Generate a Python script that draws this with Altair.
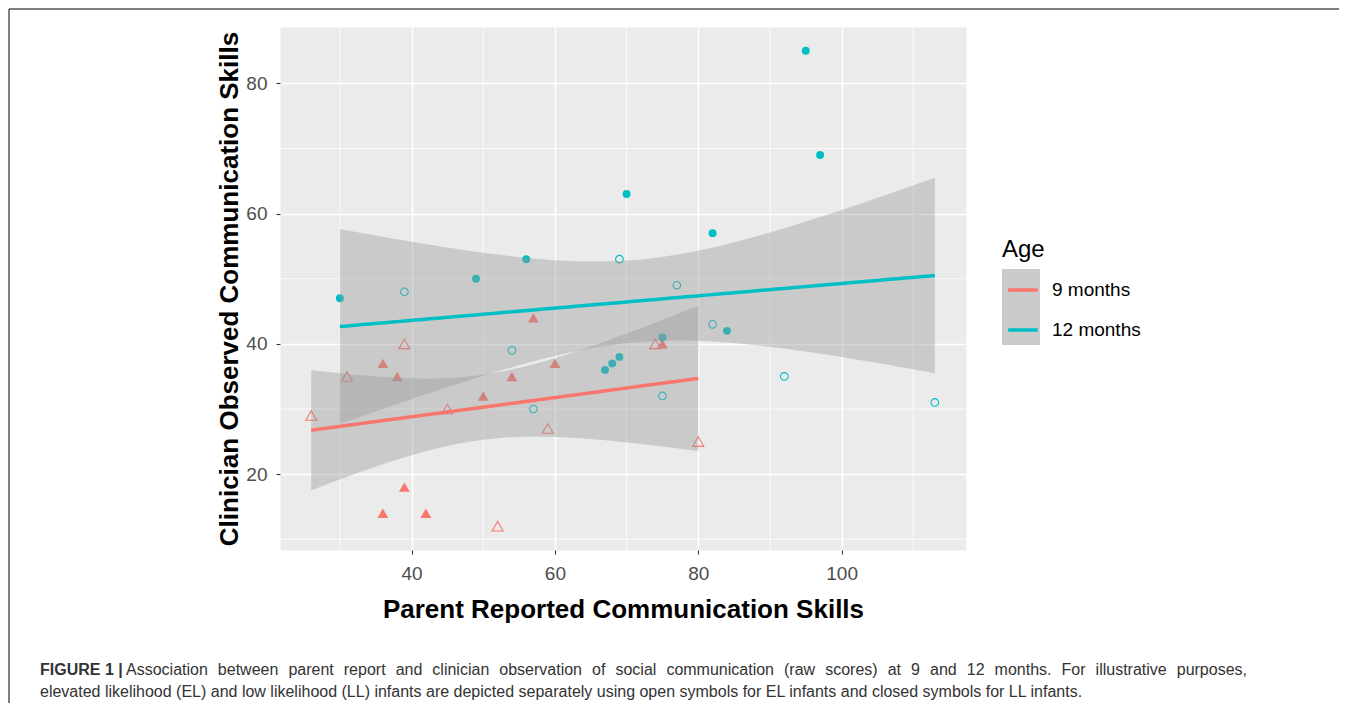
import math
import numpy as np
import pandas as pd
import altair as alt

# ---------------- data ----------------
AGE_LEVELS = ["9 months", "12 months"]
AGE_COLORS = ["#F8766D", "#00BFC4"]

# 9 months, low likelihood (closed triangles)
x9_ll = [36, 38, 54, 50, 57, 60, 75, 39, 36, 42]
y9_ll = [37, 35, 35, 32, 44, 37, 40, 18, 14, 14]
# 9 months, elevated likelihood (open triangles)
x9_el = [26, 31, 39, 45, 59, 74, 80, 52]
y9_el = [29, 35, 40, 30, 27, 40, 25, 12]
# 12 months, low likelihood (closed circles)
x12_ll = [30, 49, 56, 70, 82, 95, 97, 84, 75, 69, 68, 67]
y12_ll = [47, 50, 53, 63, 57, 85, 69, 42, 41, 38, 37, 36]
# 12 months, elevated likelihood (open circles)
x12_el = [39, 54, 57, 69, 77, 82, 75, 92, 113]
y12_el = [48, 39, 30, 53, 49, 43, 32, 35, 31]

x_ticks = [40, 60, 80, 100]
y_ticks = [20, 40, 60, 80]
x_minor = [30, 50, 70, 90, 110]
y_minor = [10, 30, 50, 70]

x_title = "Parent Reported Communication Skills"
y_title = "Clinician Observed Communication Skills"
legend_title = "Age"
caption_bold = "FIGURE 1 |"
caption_line1 = ("Association between parent report and clinician observation of social "
                 "communication (raw scores) at 9 and 12 months. For illustrative purposes,")
caption_line2 = ("elevated likelihood (EL) and low likelihood (LL) infants are depicted separately "
                 "using open symbols for EL infants and closed symbols for LL infants.")

FONT = "Liberation Sans"


# ---------------- linear fit with 95% confidence band (like geom_smooth(method="lm")) ----------------
def t_quantile(p, df):
    c = math.exp(math.lgamma((df + 1) / 2) - math.lgamma(df / 2)) / math.sqrt(df * math.pi)

    def cdf(t):
        g = np.linspace(0.0, t, 4001)
        f = c * (1 + g * g / df) ** (-(df + 1) / 2)
        return 0.5 + np.trapezoid(f, g)

    lo, hi = 0.0, 20.0
    for _ in range(60):
        mid = (lo + hi) / 2
        if cdf(mid) < p:
            lo = mid
        else:
            hi = mid
    return (lo + hi) / 2


def fit(xs, ys, label):
    x = np.asarray(xs, float)
    y = np.asarray(ys, float)
    n = len(x)
    xm, ym = x.mean(), y.mean()
    sxx = ((x - xm) ** 2).sum()
    b = ((x - xm) * (y - ym)).sum() / sxx
    a = ym - b * xm
    s = math.sqrt(((y - (a + b * x)) ** 2).sum() / (n - 2))
    tq = t_quantile(0.975, n - 2)
    g = np.linspace(x.min(), x.max(), 80)
    yh = a + b * g
    se = s * np.sqrt(1 / n + (g - xm) ** 2 / sxx)
    return pd.DataFrame({"x": g, "fit": yh, "lo": yh - tq * se, "hi": yh + tq * se, "Age": label})


fits = pd.concat([fit(x9_ll + x9_el, y9_ll + y9_el, AGE_LEVELS[0]),
                  fit(x12_ll + x12_el, y12_ll + y12_el, AGE_LEVELS[1])], ignore_index=True)

all_x = x9_ll + x9_el + x12_ll + x12_el
all_y = y9_ll + y9_el + y12_ll + y12_el
xr = max(all_x) - min(all_x)
yr = max(all_y) - min(all_y)
x_dom = [min(all_x) - 0.05 * xr, max(all_x) + 0.05 * xr]
y_dom = [min(all_y) - 0.05 * yr, max(all_y) + 0.05 * yr]

x_scale = alt.Scale(domain=x_dom, nice=False, zero=False)
y_scale = alt.Scale(domain=y_dom, nice=False, zero=False)

common_axis = dict(grid=True, gridColor="white", gridWidth=1.6, domain=False,
                   ticks=True, tickColor="#333333", tickSize=4, tickWidth=1.1,
                   labelFontSize=19, labelColor="#4D4D4D", labelFont=FONT,
                   titleFontSize=26, titleFontWeight="bold", titleColor="black", titleFont=FONT)
x_axis = alt.Axis(values=x_ticks, labelPadding=10, titlePadding=13, **common_axis)
y_axis = alt.Axis(values=y_ticks, labelPadding=9, titlePadding=3, **common_axis)


def X(field):
    return alt.X(field, scale=x_scale, axis=x_axis, title=x_title)


def Y(field):
    return alt.Y(field, scale=y_scale, axis=y_axis, title=y_title)


def pts(xs, ys):
    return pd.DataFrame({"x": xs, "y": ys})


# minor grid
minor_x = alt.Chart(pd.DataFrame({"x": x_minor})).mark_rule(color="white", strokeWidth=0.8).encode(x=X("x:Q"))
minor_y = alt.Chart(pd.DataFrame({"y": y_minor})).mark_rule(color="white", strokeWidth=0.8).encode(y=Y("y:Q"))

# points
tri_ll = alt.Chart(pts(x9_ll, y9_ll)).mark_point(
    shape="triangle-up", filled=True, size=118, color=AGE_COLORS[0], opacity=1, strokeWidth=0
).encode(x=X("x:Q"), y=Y("y:Q"))
tri_el = alt.Chart(pts(x9_el, y9_el)).mark_point(
    shape="triangle-up", filled=False, size=122, color=AGE_COLORS[0], opacity=1, strokeWidth=1.1
).encode(x=X("x:Q"), y=Y("y:Q"))
cir_ll = alt.Chart(pts(x12_ll, y12_ll)).mark_point(
    shape="circle", filled=True, size=62, color=AGE_COLORS[1], opacity=1, strokeWidth=0
).encode(x=X("x:Q"), y=Y("y:Q"))
cir_el = alt.Chart(pts(x12_el, y12_el)).mark_point(
    shape="circle", filled=False, size=58, color=AGE_COLORS[1], opacity=1, strokeWidth=1.1
).encode(x=X("x:Q"), y=Y("y:Q"))

# confidence bands
band = alt.Chart(fits).mark_area(color="#999999", opacity=0.4).encode(
    x=X("x:Q"), y=Y("lo:Q"), y2="hi:Q", detail="Age:N"
)

legend_common = dict(title=legend_title, orient="none", legendX=722, legendY=211, padding=0,
                     rowPadding=0, symbolSize=1444, labelFontSize=19, labelFont=FONT,
                     labelColor="black", titleFontSize=24, titleFont=FONT, titleFontWeight="normal",
                     titleColor="black", titlePadding=7)

# fitted lines (with the line legend)
lines = alt.Chart(fits).mark_line(strokeWidth=3.5).encode(
    x=X("x:Q"), y=Y("fit:Q"),
    color=alt.Color("Age:N", scale=alt.Scale(domain=AGE_LEVELS, range=AGE_COLORS),
                    legend=alt.Legend(symbolType="M-0.78,0H0.78M0,-0.61L0,-0.61M0,0.61L0,0.61",
                                      symbolStrokeWidth=3.5, zindex=2, labelOffset=8, **legend_common)),
)

# grey key background of the legend (no visible marks)
key_df = pd.DataFrame({"x": [50, 50], "y": [50, 50], "Key": [a + " " for a in AGE_LEVELS]})
key_bg = alt.Chart(key_df).transform_filter("false").mark_rect().encode(
    x=X("x:Q"), y=Y("y:Q"),
    fill=alt.Fill("Key:N", scale=alt.Scale(domain=[a + " " for a in AGE_LEVELS],
                                           range=["#CBCBCB", "#CBCBCB"]),
                  legend=alt.Legend(symbolType="square", symbolStrokeWidth=0, zindex=1,
                                    titleOpacity=0, labelOpacity=0, labelExpr="''",
                                    labelOffset=12, **legend_common)),
)

# ---------------- caption (first line justified like the journal layout) ----------------
HELV = {" ": 278, "(": 333, ")": 333, ",": 278, ".": 278, "A": 667, "F": 611, "E": 667, "L": 556}
HELV.update({d: 556 for d in "0123456789"})
HELV.update(dict(zip("abcdefghijklmnopqrstuvwxyz",
                     [556, 556, 500, 556, 556, 278, 556, 556, 222, 222, 500, 222, 833,
                      556, 556, 556, 556, 333, 500, 278, 556, 500, 722, 500, 500, 500])))
CAP_SIZE = 16
LINE1_START, LINE1_END = 126, 1247      # page pixels
PLOT_LEFT, PLOT_TOP = 280, 27

words = caption_line1.split(" ")
w_widths = [sum(HELV.get(ch, 556) for ch in w) * CAP_SIZE / 1000 for w in words]
gap = (LINE1_END - LINE1_START - sum(w_widths)) / (len(words) - 1)
pos = []
cur = LINE1_START
for wd in w_widths:
    pos.append(cur - PLOT_LEFT)
    cur += wd + gap
words_df = pd.DataFrame({"w": words, "px": pos})

one = pd.DataFrame({"t": [caption_bold], "b": [caption_line2]})
cap_bold = alt.Chart(one).mark_text(align="left", baseline="alphabetic", font=FONT, fontWeight="bold",
                                    fontSize=16, color="#333333").encode(
    x=alt.value(40 - PLOT_LEFT), y=alt.value(675 - PLOT_TOP), text="t:N")
cap_1 = alt.Chart(words_df).mark_text(align="left", baseline="alphabetic", font=FONT,
                                      fontSize=CAP_SIZE, color="#333333").encode(
    x=alt.X("px:Q", scale=None), y=alt.value(675 - PLOT_TOP), text="w:N")
cap_2 = alt.Chart(one).mark_text(align="left", baseline="alphabetic", font=FONT,
                                 fontSize=CAP_SIZE, color="#333333").encode(
    x=alt.value(40 - PLOT_LEFT), y=alt.value(697 - PLOT_TOP), text="b:N")
frame_left = alt.Chart(one).mark_rule(color="#555555", strokeWidth=1.5).encode(
    x=alt.value(-271), y=alt.value(-18), y2=alt.value(676))
frame_top = alt.Chart(one).mark_rule(color="#555555", strokeWidth=1.5).encode(
    x=alt.value(-271), x2=alt.value(1059), y=alt.value(-18))

chart = alt.layer(
    minor_x, minor_y, tri_ll, tri_el, cir_ll, cir_el, band, lines, key_bg,
    cap_bold, cap_1, cap_2, frame_left, frame_top
).properties(width=686, height=523, padding=0, background="white").configure_view(
    fill="#EBEBEB", stroke="transparent"
)

chart.save("out.html", embed_options={"renderer": "svg", "actions": False})
